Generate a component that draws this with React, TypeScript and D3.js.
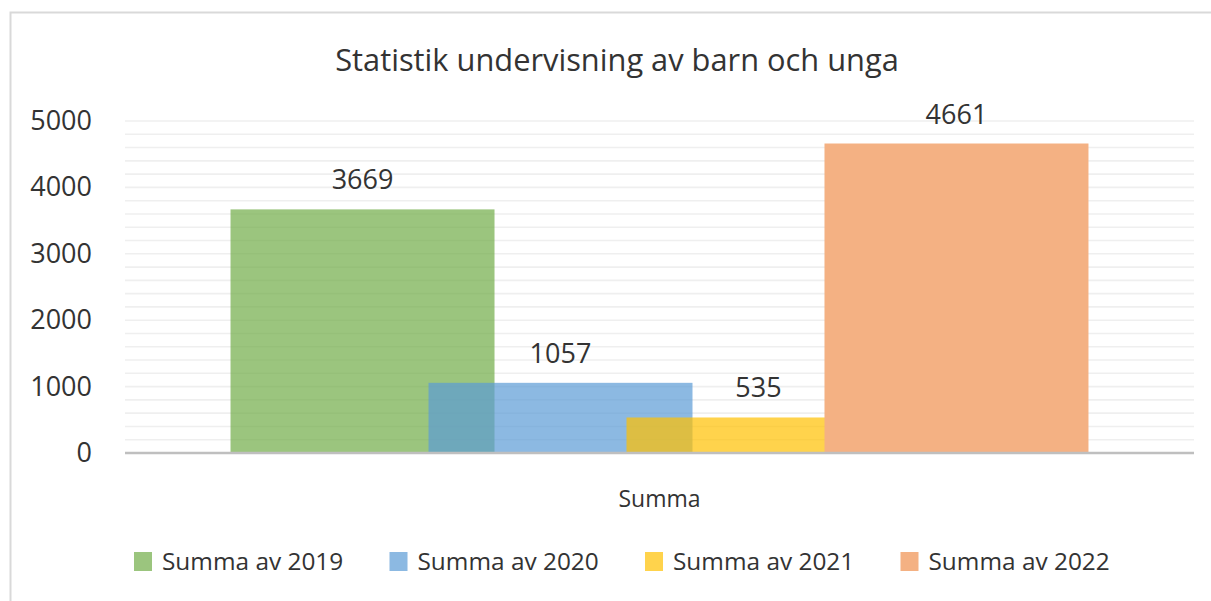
import React, { useRef, useEffect } from "react";
import * as d3 from "d3";

// data
const categories = ["Summa"];
const seriesNames = ["Summa av 2019", "Summa av 2020", "Summa av 2021", "Summa av 2022"];
const seriesValues = [3669, 1057, 535, 4661];
const seriesColors = ["#70ad47", "#5b9bd5", "#ffc000", "#f4b183"];
const seriesOpacity = [0.7, 0.7, 0.7, 1];
const yTicks = [0, 1000, 2000, 3000, 4000, 5000];
const title = "Statistik undervisning av barn och unga";

const W = 1211;
const H = 601;
const FONT = "'Open Sans', 'DejaVu Sans', sans-serif";

export default function App() {
  const svgRef = useRef<SVGSVGElement | null>(null);

  useEffect(() => {
    const svg = d3.select(svgRef.current);
    svg.selectAll("*").remove();

    const left = 125, right = 1194, top = 121, bottom = 453;

    // chart frame (runs past the right/bottom edge like the original)
    svg.append("rect")
      .attr("x", 10.5).attr("y", 12.5)
      .attr("width", W + 20).attr("height", H + 20)
      .attr("fill", "white")
      .attr("stroke", "#d9d9d9")
      .attr("stroke-width", 2);

    const y = d3.scaleLinear().domain([0, 5000]).range([bottom, top]);
    const x = d3.scaleBand().domain(categories).range([left, right]).paddingInner(0).paddingOuter(0.123);

    // gridlines every 200
    svg.append("g")
      .selectAll("line")
      .data(d3.range(200, 5001, 200))
      .join("line")
        .attr("x1", left).attr("x2", right)
        .attr("y1", d => y(d)).attr("y2", d => y(d))
        .attr("stroke", "#efefef")
        .attr("stroke-width", 1.6);

    // y tick labels
    svg.append("g")
      .selectAll("text")
      .data(yTicks)
      .join("text")
        .attr("x", 92)
        .attr("y", d => y(d) + 9)
        .attr("text-anchor", "end")
        .style("font-family", FONT)
        .style("font-size", "27px")
        .style("fill", "#333")
        .text(d => d);

    // bars: overlapping series inside the single category
    const groupW = x.bandwidth();
    const overlap = 0.25;
    const barW = groupW / (1 + (seriesNames.length - 1) * (1 - overlap));
    const inner = d3.scaleLinear()
      .domain([0, seriesNames.length - 1])
      .range([0, (seriesNames.length - 1) * barW * (1 - overlap)]);

    const bars = seriesNames.map((name, i) => ({
      name, value: seriesValues[i], color: seriesColors[i], op: seriesOpacity[i], i
    }));

    const g = svg.append("g");
    g.selectAll("rect")
      .data(bars)
      .join("rect")
        .attr("x", d => (x("Summa") as number) + inner(d.i))
        .attr("y", d => y(d.value))
        .attr("width", barW)
        .attr("height", d => y(0) - y(d.value))
        .attr("fill", d => d.color)
        .attr("fill-opacity", d => d.op);

    g.selectAll("text")
      .data(bars)
      .join("text")
        .attr("x", d => (x("Summa") as number) + inner(d.i) + barW / 2)
        .attr("y", d => y(d.value) - 20)
        .attr("text-anchor", "middle")
        .style("font-family", FONT)
        .style("font-size", "27px")
        .style("fill", "#333")
        .text(d => d.value);

    // axis line
    svg.append("line")
      .attr("x1", left).attr("x2", right)
      .attr("y1", bottom).attr("y2", bottom)
      .attr("stroke", "#bfbfbf")
      .attr("stroke-width", 2.5);

    // category label
    svg.append("text")
      .attr("x", (x("Summa") as number) + groupW / 2)
      .attr("y", 507)
      .attr("text-anchor", "middle")
      .style("font-family", FONT)
      .style("font-size", "23px")
      .style("fill", "#333")
      .text(categories[0]);

    // title
    svg.append("text")
      .attr("x", 617)
      .attr("y", 71)
      .attr("text-anchor", "middle")
      .style("font-family", FONT)
      .style("font-size", "30.8px")
      .style("fill", "#333")
      .text(title);

    // legend
    const legend = svg.append("g")
      .selectAll("g")
      .data(bars)
      .join("g")
        .attr("transform", d => `translate(${134 + d.i * 255.5}, 552)`);
    legend.append("rect")
      .attr("width", 18).attr("height", 19)
      .attr("fill", d => d.color)
      .attr("fill-opacity", d => d.op);
    legend.append("text")
      .attr("x", 28)
      .attr("y", 18)
      .style("font-family", FONT)
      .style("font-size", "24.4px")
      .style("fill", "#333")
      .text(d => d.name);
  }, []);

  return (
    <div style={{ position: "absolute", left: 0, top: 0, width: W, height: H, overflow: "hidden" }}>
      <svg ref={svgRef} width={W} height={H} style={{ display: "block" }} />
    </div>
  );
}
